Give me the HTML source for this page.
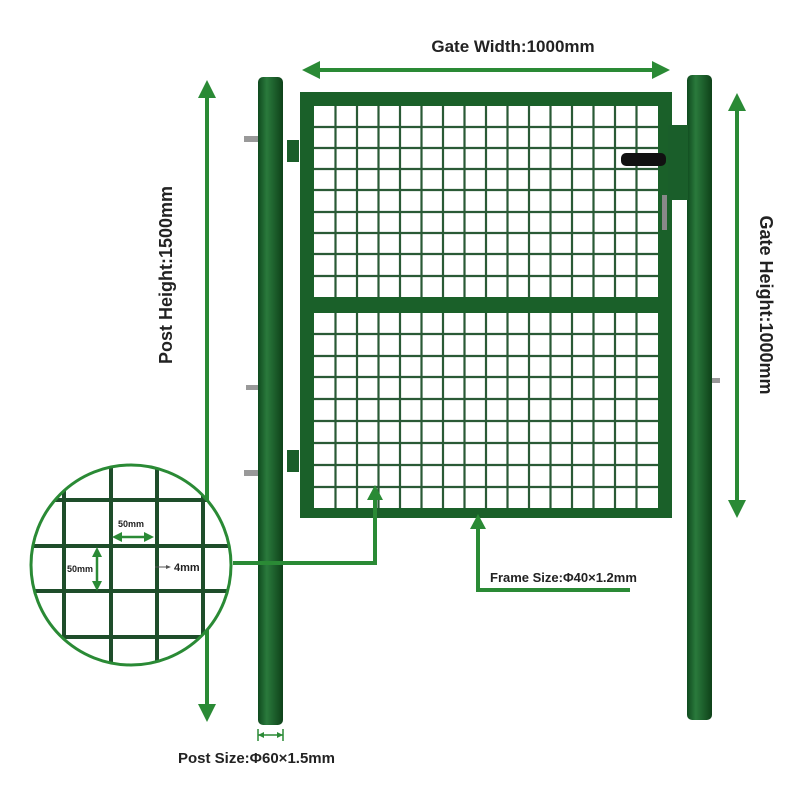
<!DOCTYPE html>
<html><head><style>body{margin:0;background:#fff}svg{display:block}text{font-family:"Liberation Sans",sans-serif;font-weight:bold;fill:#222}</style></head><body>
<svg width="800" height="800" viewBox="0 0 800 800">
<defs>
<linearGradient id="pg" x1="0" x2="1"><stop offset="0" stop-color="#0f4a1e"/><stop offset="0.35" stop-color="#2a7a3c"/><stop offset="1" stop-color="#0e4119"/></linearGradient>
<clipPath id="cc"><circle cx="131" cy="565" r="100"/></clipPath>
</defs>
<!-- posts -->
<rect x="258" y="77" width="25" height="648" rx="5" fill="url(#pg)"/>
<rect x="687" y="75" width="25" height="645" rx="5" fill="url(#pg)"/>
<g fill="#999"><rect x="244" y="136" width="14" height="6"/><rect x="244" y="470" width="14" height="6"/><rect x="246" y="385" width="12" height="5"/><rect x="712" y="378" width="8" height="5"/></g>
<rect x="287" y="140" width="12" height="22" fill="#1a5e2a"/><rect x="287" y="450" width="12" height="22" fill="#1a5e2a"/>
<!-- gate frame -->
<rect x="300" y="92" width="372" height="426" fill="#1a6029"/>
<rect x="314" y="106" width="344" height="191" fill="#fff"/>
<rect x="314" y="313" width="344" height="195" fill="#fff"/>
<g stroke="#2a5a36" stroke-width="2.2">
<path d="M335.5 106V297M357 106V297M378.5 106V297M400 106V297M421.5 106V297M443 106V297M464.5 106V297M486 106V297M507.5 106V297M529 106V297M550.5 106V297M572 106V297M593.5 106V297M615 106V297M636.5 106V297"/>
<path d="M335.5 313V508M357 313V508M378.5 313V508M400 313V508M421.5 313V508M443 313V508M464.5 313V508M486 313V508M507.5 313V508M529 313V508M550.5 313V508M572 313V508M593.5 313V508M615 313V508M636.5 313V508"/>
<path d="M314 127H658M314 148H658M314 169H658M314 190H658M314 212H658M314 233H658M314 254H658M314 276H658"/>
<path d="M314 334H658M314 356H658M314 377H658M314 399H658M314 421H658M314 443H658M314 465H658M314 487H658"/>
</g>
<rect x="668" y="125" width="20" height="75" fill="#1a5e2a"/>
<rect x="621" y="153" width="45" height="13" rx="5" fill="#111"/>
<rect x="662" y="195" width="5" height="35" fill="#888"/>
<!-- dimension arrows -->
<g stroke="#2a8a35" stroke-width="4" fill="none">
<path d="M310 70H662"/><path d="M207 90V712"/><path d="M737 103V508"/>
<path d="M233 563H375V495"/><path d="M478 525V590H630"/>
</g>
<g fill="#2a8a35">
<polygon points="302,70 320,61 320,79"/><polygon points="670,70 652,61 652,79"/>
<polygon points="207,80 198,98 216,98"/><polygon points="207,722 198,704 216,704"/>
<polygon points="737,93 728,111 746,111"/><polygon points="737,518 728,500 746,500"/>
<polygon points="375,485 367,500 383,500"/><polygon points="478,514 470,529 486,529"/>
</g>
<!-- circle detail -->
<circle cx="131" cy="565" r="100" fill="#fff"/>
<g clip-path="url(#cc)" stroke="#1e4d2a" stroke-width="4">
<path d="M64 450V680M111 450V680M157 450V680M203 450V680M20 500H240M20 546H240M20 591H240M20 637H240"/>
</g>
<circle cx="131" cy="565" r="100" fill="none" stroke="#2a8a35" stroke-width="3"/>
<g stroke="#2a8a35" stroke-width="2.5" fill="none">
<path d="M116 537H150"/><path d="M97 552V586"/>
</g>
<g fill="#2a8a35">
<polygon points="112,537 122,532 122,542"/><polygon points="154,537 144,532 144,542"/>
<polygon points="97,547 92,557 102,557"/><polygon points="97,591 92,581 102,581"/>
</g>
<path d="M155 567H168" stroke="#555" stroke-width="1"/><polygon points="171,567 166,565 166,569" fill="#555"/>
<text x="118" y="527" font-size="9">50mm</text>
<text x="67" y="572" font-size="9">50mm</text>
<text x="174" y="571" font-size="11">4mm</text>
<g stroke="#2a8a35" stroke-width="1.5"><path d="M258 735H283"/><path d="M258 729V741M283 729V741"/></g>
<polygon points="258,735 264,732 264,738" fill="#2a8a35"/><polygon points="283,735 277,732 277,738" fill="#2a8a35"/>
<text x="513" y="52" font-size="17" text-anchor="middle">Gate Width:1000mm</text>
<text x="178" y="763" font-size="15">Post Size:Φ60×1.5mm</text>
<text x="490" y="582" font-size="13">Frame Size:Φ40×1.2mm</text>
<text transform="translate(172,275) rotate(-90)" font-size="18" text-anchor="middle">Post Height:1500mm</text>
<text transform="translate(760,305) rotate(90)" font-size="18" text-anchor="middle">Gate Height:1000mm</text>
</svg>
</body></html>
